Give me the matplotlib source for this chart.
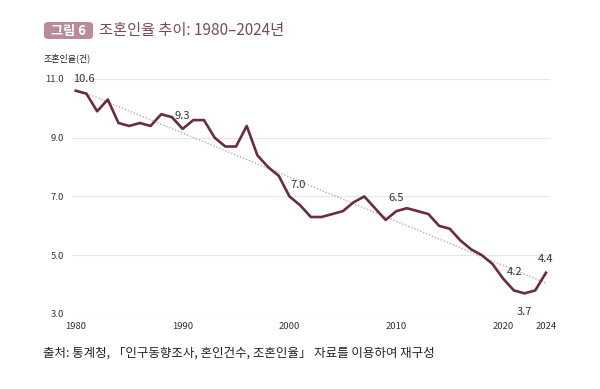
import numpy as np
import matplotlib
matplotlib.use('Agg')
import matplotlib.pyplot as plt
from matplotlib.patches import FancyBboxPatch

plt.rcParams['font.family'] = ['Noto Sans CJK KR', 'DejaVu Sans']

years = list(range(1980, 2025))
rate = [10.6, 10.5, 9.9, 10.3, 9.5, 9.4, 9.5, 9.4, 9.8, 9.7,
        9.3, 9.6, 9.6, 9.0, 8.7, 8.7, 9.4, 8.4, 8.0, 7.7,
        7.0, 6.7, 6.3, 6.3, 6.4, 6.5, 6.8, 7.0, 6.6, 6.2,
        6.5, 6.6, 6.5, 6.4, 6.0, 5.9, 5.5, 5.2, 5.0, 4.7,
        4.2, 3.8, 3.7, 3.8, 4.4]
xticks = [1980, 1990, 2000, 2010, 2020, 2024]
yticks = [3.0, 5.0, 7.0, 9.0, 11.0]

# labels shown on the chart: year -> (dx, dy) offset in points
label_years = {1980: (6, 5), 1990: (0, 6), 2000: (6, 5), 2010: (0, 6),
               2020: (8, 1), 2022: (0, -10), 2024: (0, 6)}

line_color = '#6a2c3e'
title_color = '#7b4a5a'

fig = plt.figure(figsize=(6, 3.89), dpi=100)
ax = fig.add_axes([0.12, 0.193, 0.797, 0.604])

# trend line
coef = np.polyfit(years, rate, 1)
tx = np.array([1981, 2024])
ax.plot(tx, np.polyval(coef, tx), color='#b0b0b0', lw=1.0, ls=(0, (1, 1.3)), zorder=2)

ax.plot(years, rate, color=line_color, lw=1.9, zorder=3, solid_joinstyle='round')

for y, (dx, dy) in label_years.items():
    v = rate[years.index(y)]
    ax.annotate(f'{v:.1f}', (y, v), xytext=(dx, dy), textcoords='offset points',
                ha='center', va='bottom' if dy > 0 else 'top', fontsize=8,
                color='#333333', zorder=4)

ax.set_xlim(1979.65, 2024.4)
ax.set_ylim(3.0, 11.0)
ax.set_xticks(xticks)
ax.set_yticks(yticks)
ax.set_yticklabels([f'{t:.1f}' for t in yticks])
ax.tick_params(axis='both', length=0, labelsize=6.8, colors='#333333')
ax.tick_params(axis='x', pad=6)
ax.tick_params(axis='y', pad=6)
ax.grid(axis='y', color='#e6e6e6', lw=0.8)
ax.set_axisbelow(True)
for s in ax.spines.values():
    s.set_visible(False)

# title
box = FancyBboxPatch((44 / 600, 1 - 39 / 389), 49 / 600, 17 / 389,
                     boxstyle='round,pad=0,rounding_size=0.008',
                     transform=fig.transFigure, facecolor='#b88c98', edgecolor='none')
fig.patches.append(box)
fig.text(68.5 / 600, 1 - 31 / 389, '그림 6', ha='center', va='center',
         fontsize=9.5, color='white', fontweight='bold')
fig.text(99 / 600, 1 - 31 / 389, '조혼인율 추이: 1980–2024년', ha='left', va='center',
         fontsize=11, color=title_color, fontweight='medium')
fig.text(44 / 600, 1 - 58 / 389, '조혼인율(건)', ha='left', va='center',
         fontsize=6.5, color='#222222')
fig.text(43 / 600, 1 - 353 / 389, '출처: 통계청, 「인구동향조사, 혼인건수, 조혼인율」 자료를 이용하여 재구성',
         ha='left', va='center', fontsize=9, color='#222222')

fig.savefig('out.png', dpi=100, facecolor='white')
